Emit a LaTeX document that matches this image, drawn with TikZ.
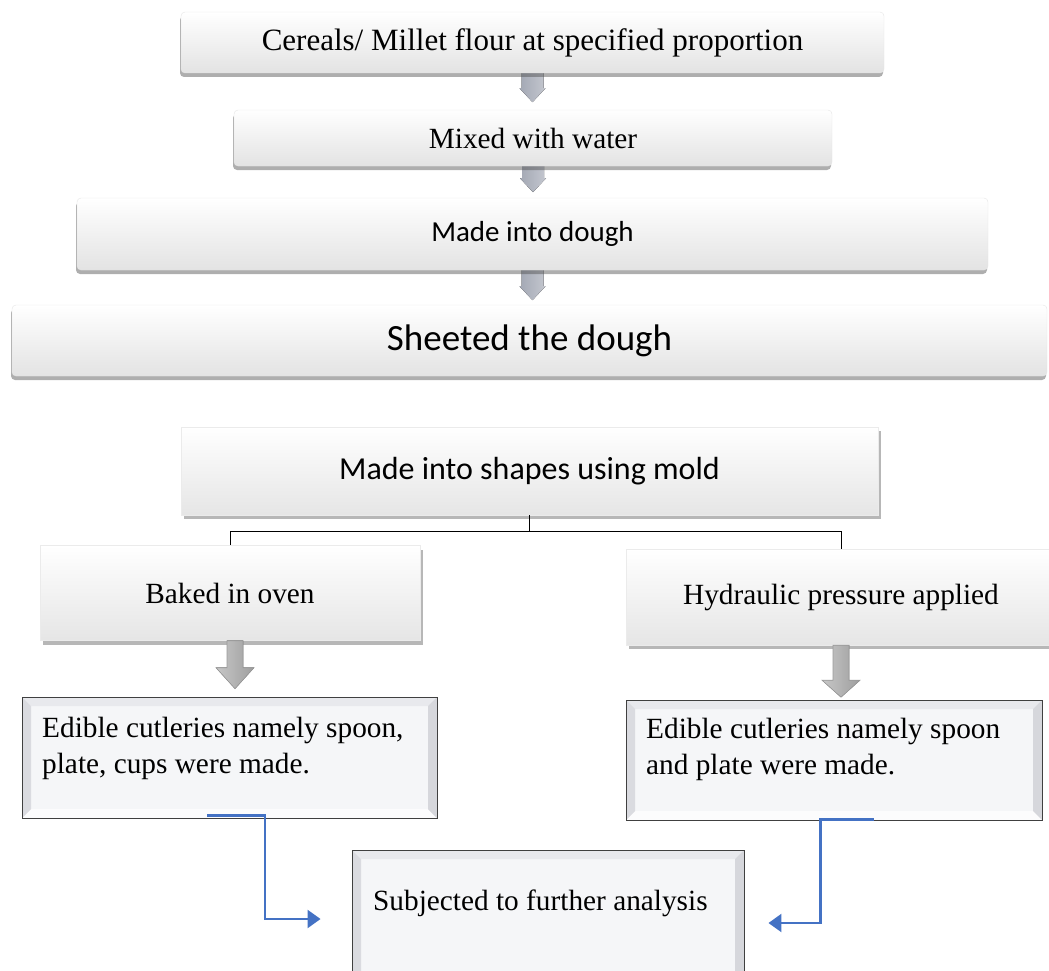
\documentclass[tikz,border=0pt]{standalone}
\usepackage{fontspec}
\setmainfont{Liberation Serif}
\newfontfamily\calib{Carlito}
\usetikzlibrary{shadows,calc,arrows.meta}
\definecolor{bevfill}{HTML}{F5F6F8}
\definecolor{bevtop}{HTML}{E8E9ED}
\definecolor{bevbot}{HTML}{FCFCFD}
\definecolor{bevleft}{HTML}{DADBE0}
\definecolor{bevright}{HTML}{D6D7DC}
\definecolor{conn}{HTML}{4472C4}
\definecolor{arrdark}{HTML}{A3A8B4}
\definecolor{arrlight}{HTML}{C4C7CF}
\pgfdeclarelayer{bg}
\pgfsetlayers{bg,main}
\newcommand\smallarrow[3]{%
  \fill[smallarr] ($(#1.south)+(-11,0)$) -- ($(#1.south)+(11,0)$) -- ($(#1.south)+(11,#2)$) -- ($(#1.south)+(13,#2)$) -- ($(#1.south)+(0,#3)$) -- ($(#1.south)+(-13,#2)$) -- ($(#1.south)+(-11,#2)$) -- cycle;}
\newcommand\bigarrow[4]{%
  \filldraw[bigarr] ($(#1.south)+(#2-8,0)$) -- ($(#1.south)+(#2+8,0)$) -- ($(#1.south)+(#2+8,#3)$) -- ($(#1.south)+(#2+19,#3)$) -- ($(#1.south)+(#2,#4)$) -- ($(#1.south)+(#2-19,#3)$) -- ($(#1.south)+(#2-8,#3)$) -- cycle;}
\tikzset{
  rbox/.style={rounded corners=4pt, draw=black!10, top color=white, bottom color=black!11, inner sep=0pt,
    drop shadow={shadow xshift=-1pt, shadow yshift=-4pt, opacity=0.45, fill=black!70}},
  sbox/.style={draw=black!8, top color=white, bottom color=black!10, inner sep=0pt,
    drop shadow={shadow xshift=3pt, shadow yshift=-4pt, opacity=0.4, fill=black!70}},
  bevbox/.style={draw=black!75, line width=0.9pt, fill=bevfill, inner sep=0pt,
    path picture={
      \fill[bevtop] (path picture bounding box.north west) -- (path picture bounding box.north east) -- ($(path picture bounding box.north east)+(-9pt,-9pt)$) -- ($(path picture bounding box.north west)+(9pt,-9pt)$) -- cycle;
      \fill[bevbot] (path picture bounding box.south west) -- (path picture bounding box.south east) -- ($(path picture bounding box.south east)+(-9pt,9pt)$) -- ($(path picture bounding box.south west)+(9pt,9pt)$) -- cycle;
      \fill[bevleft] (path picture bounding box.north west) -- (path picture bounding box.south west) -- ($(path picture bounding box.south west)+(9pt,9pt)$) -- ($(path picture bounding box.north west)+(9pt,-9pt)$) -- cycle;
      \fill[bevright] (path picture bounding box.north east) -- (path picture bounding box.south east) -- ($(path picture bounding box.south east)+(-9pt,9pt)$) -- ($(path picture bounding box.north east)+(-9pt,-9pt)$) -- cycle;
    }},
  serif/.style={font=\fontsize{29.3}{36}\selectfont},
  txt/.style={inner sep=0pt, align=left, anchor=north west, font=\fontsize{29.3}{36}\selectfont},
  smallarr/.style={left color=arrdark, right color=arrlight},
  bigarr/.style={left color=black!22, right color=black!38, draw=black!40, line width=0.6pt},
  conline/.style={draw=conn, line width=2.2pt, -{Triangle[length=13pt,width=18pt]}},
  tree/.style={draw=black, line width=0.8pt}
}
\begin{document}
\begin{tikzpicture}[x=1pt,y=-1pt]
\useasboundingbox (0,0) rectangle (1049,971);
% top flow
\node[rbox, minimum width=703pt, minimum height=61pt, font=\fontsize{31}{36}\selectfont] (b1) at (532.5,42.5) {Cereals/ Millet flour at specified proportion};
\node[rbox, minimum width=598pt, minimum height=56pt, serif] (b2) at (533,138) {Mixed with water};
\node[rbox, minimum width=911pt, minimum height=72pt, font=\calib\fontsize{29}{34}\selectfont] (b3) at (532.5,234) {Made into dough};
\node[rbox, minimum width=1035pt, minimum height=71pt, font=\calib\fontsize{37}{42}\selectfont] (b4) at (529.5,340.5) {Sheeted the dough};
\begin{pgfonlayer}{bg}
\smallarrow{b1}{15}{29}
\smallarrow{b2}{12}{26}
\smallarrow{b3}{16}{30}
\end{pgfonlayer}
% tree
\node[sbox, minimum width=697pt, minimum height=88pt, font=\calib\fontsize{32}{38}\selectfont] (b5) at (529.5,471) {Made into shapes using mold};
\node[sbox, minimum width=380pt, minimum height=95pt, serif] (b6) at (230,593) {Baked in oven};
\node[sbox, minimum width=430pt, minimum height=96pt, serif] (b7) at (841,597) {Hydraulic pressure applied};
\coordinate (fork) at ($(b5.south)+(0,16)$);
\draw[tree] (b5.south) -- (fork);
\draw[tree] (fork) -| (b6.north);
\draw[tree] (fork) -| (b7.north);
\bigarrow{b6}{5}{27}{48}
\bigarrow{b7}{0}{35}{52}
% result boxes
\node[bevbox, minimum width=415pt, minimum height=121pt] (b8) at (229.5,757.5) {};
\node[txt] (t8) at (42,717) {Edible cutleries namely spoon,\\plate, cups were made.};
\node[bevbox, minimum width=416pt, minimum height=120pt] (b9) at (834,760) {};
\node[txt] (t9) at (646,718) {Edible cutleries namely spoon\\and plate were made.};
\node[bevbox, minimum width=392pt, minimum height=135pt] (b10) at (548,917.5) {};
\node[txt] (t10) at (373,890) {Subjected to further analysis};
% blue connectors
\coordinate (s8) at ($(b8.south)+(-22.5,-3)$);
\coordinate (k8) at ($(b10.west)+(-86.5,1.5)$);
\coordinate (e8) at ($(b10.west)+(-31,1.5)$);
\draw[conline] (s8) -| (k8) -- (e8);
\coordinate (s9) at ($(b9.south)+(40,-1)$);
\coordinate (k9) at ($(b10.east)+(76,5.5)$);
\coordinate (e9) at ($(b10.east)+(24,5.5)$);
\draw[conline] (s9) -| (k9) -- (e9);
\end{tikzpicture}
\end{document}
